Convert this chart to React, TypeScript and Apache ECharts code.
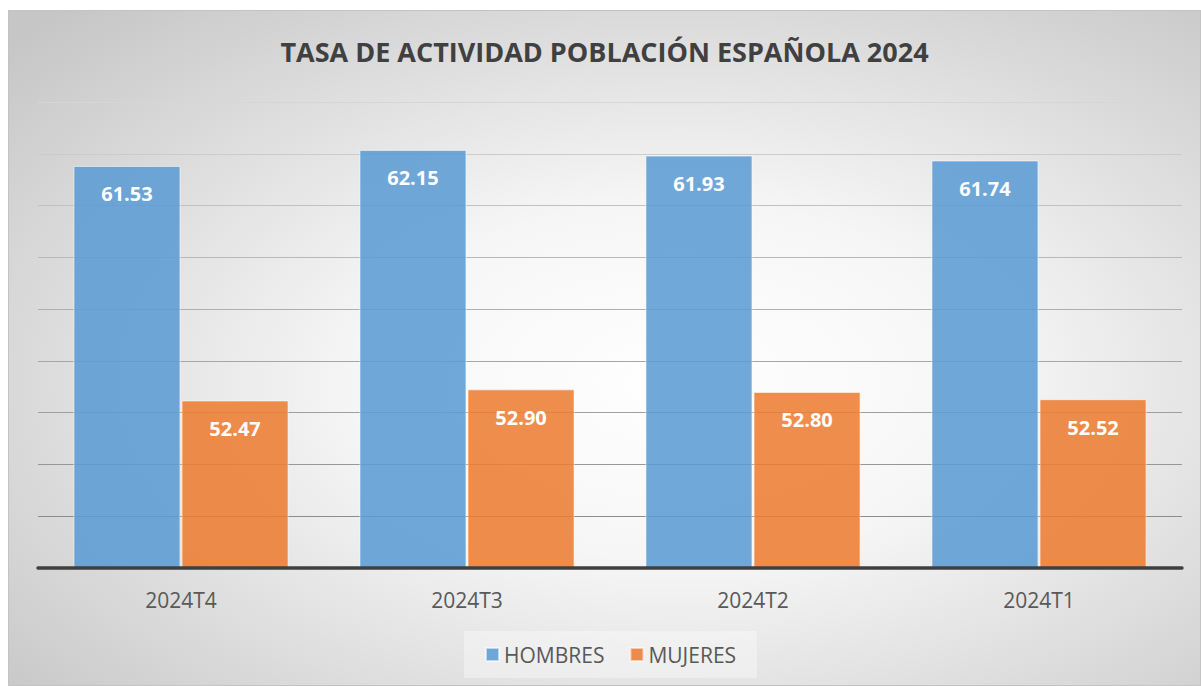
import React, { useEffect, useRef } from "react";
import * as echarts from "echarts";

const titleText = "TASA DE ACTIVIDAD POBLACIÓN ESPAÑOLA 2024";
const categories = ["2024T4", "2024T3", "2024T2", "2024T1"];
const seriesNames = ["HOMBRES", "MUJERES"];
const hombres = [61.53, 62.15, 61.93, 61.74];
const mujeres = [52.47, 52.9, 52.8, 52.52];
const yMin = 46;
const yMax = 64;
const yStep = 2;

const gridColors = [
  "#7a7a7a",
  "#8c8c8c",
  "#979797",
  "#9f9f9f",
  "#a6a6a6",
  "#afafaf",
  "#b8b8b8",
  "#c1c1c1",
  "#cbcbcb",
  "#d6d6d6",
];

export default function App() {
  const ref = useRef<HTMLDivElement>(null);
  useEffect(() => {
    if (!ref.current) return;
    const chart = echarts.init(ref.current, null, { renderer: "svg" });
    const font = "'Open Sans', 'Noto Sans', sans-serif";
    const labelCfg = {
      show: true,
      position: "insideTop",
      distance: 18,
      color: "#ffffff",
      fontWeight: "bold",
      fontSize: 20,
      fontFamily: font,
      formatter: (p: any) => Number(p.value).toFixed(2),
    };
    chart.setOption({
      animation: false,
      backgroundColor: new echarts.graphic.RadialGradient(0.56, 0.55, 0.75, [
        { offset: 0, color: "#ffffff" },
        { offset: 0.35, color: "#f6f6f6" },
        { offset: 1, color: "#c6c6c6" },
      ]),
      textStyle: { fontFamily: font },
      title: {
        text: titleText,
        left: "center",
        top: 23,
        padding: [5, 0, 5, 36],
        textStyle: {
          fontFamily: font,
          fontWeight: "bold",
          fontSize: 27,
          color: "#404040",
        },
      },
      legend: {
        data: seriesNames,
        left: 456,
        top: 621,
        padding: [13, 21],
        backgroundColor: "rgba(255,255,255,0.35)",
        icon: "rect",
        itemWidth: 13,
        itemHeight: 13,
        itemGap: 25,
        textStyle: { fontSize: 21, color: "#595959", fontFamily: font },
      },
      graphic: [
        {
          type: "rect",
          shape: { x: 0.5, y: 0.5, width: 1192, height: 675 },
          style: { fill: "none", stroke: "#c3c3c3", lineWidth: 1 },
          silent: true,
          z: 100,
        },
      ],
      grid: { left: 30, right: 19, top: 92, bottom: 118, containLabel: false },
      xAxis: {
        type: "category",
        data: categories,
        axisTick: { show: false },
        axisLine: { show: true, lineStyle: { color: "#3f3f3f", width: 3.5 } },
        axisLabel: { color: "#595959", fontSize: 21, margin: 21, fontFamily: font },
        z: 10,
      },
      yAxis: {
        type: "value",
        min: yMin,
        max: yMax,
        interval: yStep,
        axisLabel: { show: false },
        axisLine: { show: false },
        axisTick: { show: false },
        splitLine: { show: true, lineStyle: { color: gridColors, width: 1.2 } },
      },
      series: [
        {
          name: seriesNames[0],
          type: "bar",
          data: hombres,
          barWidth: 107,
          barGap: "1%",
          itemStyle: {
            color: "rgba(91,155,213,0.87)",
            borderColor: "rgba(255,255,255,0.55)",
            borderWidth: 1,
          },
          label: labelCfg,
        },
        {
          name: seriesNames[1],
          type: "bar",
          data: mujeres,
          barWidth: 107,
          barGap: "1%",
          itemStyle: {
            color: "rgba(237,125,49,0.87)",
            borderColor: "rgba(255,255,255,0.55)",
            borderWidth: 1,
          },
          label: labelCfg,
        },
      ],
    });
    return () => chart.dispose();
  }, []);
  return (
    <div
      ref={ref}
      style={{ position: "absolute", left: 8, top: 10, width: 1193, height: 676 }}
    />
  );
}
